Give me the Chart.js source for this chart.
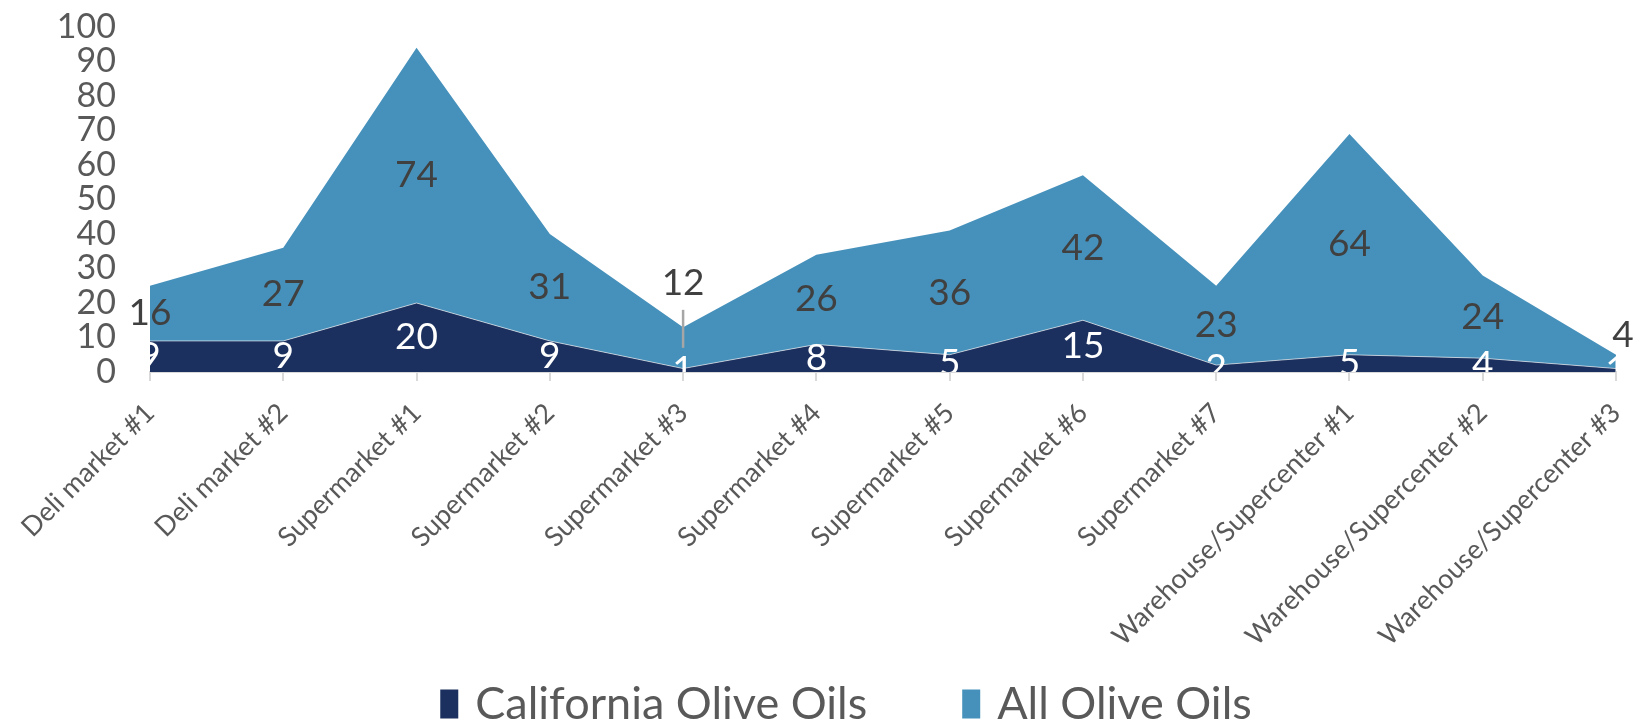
<!DOCTYPE html>
<html>
<head>
<meta charset="utf-8">
<script src="https://cdn.jsdelivr.net/npm/chart.js@4"></script>
<style>
  html, body { margin: 0; padding: 0; background: #fff; }
  #wrap { width: 1646px; height: 724px; }
</style>
</head>
<body>
<div id="wrap"><canvas id="oilChart"></canvas></div>
<script>
const stores = [
  'Deli market #1', 'Deli market #2', 'Supermarket #1', 'Supermarket #2',
  'Supermarket #3', 'Supermarket #4', 'Supermarket #5', 'Supermarket #6',
  'Supermarket #7', 'Warehouse/Supercenter #1', 'Warehouse/Supercenter #2',
  'Warehouse/Supercenter #3'
];
const californiaOils = [9, 9, 20, 9, 1, 8, 5, 15, 2, 5, 4, 1];
const allOils = [16, 27, 74, 31, 12, 26, 36, 42, 23, 64, 24, 4];
const yTicks = [0, 10, 20, 30, 40, 50, 60, 70, 80, 90, 100];

const NAVY = '#1b305e';
const BLUE = '#4691bb';
const FONT = 'Lato, "Open Sans", sans-serif';

// labels that don't fit inside the thin part of the band get lifted
const liftedLabels = { 4: { dy: 65, dx: 0, leader: true }, 11: { dy: 27, dx: 7, leader: false } };

const bandLabels = {
  id: 'bandLabels',
  afterDatasetsDraw(chart) {
    const ctx = chart.ctx;
    const area = chart.chartArea;
    const y0 = chart.scales.y.getPixelForValue(0);
    const low = chart.getDatasetMeta(0).data;
    const high = chart.getDatasetMeta(1).data;
    ctx.save();
    ctx.font = '37px ' + FONT;
    ctx.textAlign = 'center';
    ctx.textBaseline = 'middle';

    // California labels, white, inside the dark band
    ctx.save();
    ctx.beginPath();
    ctx.rect(area.left, area.top, area.right - area.left, area.bottom - area.top);
    ctx.clip();
    ctx.fillStyle = '#ffffff';
    low.forEach((pt, i) => {
      ctx.fillText(String(californiaOils[i]), pt.x, (pt.y + y0) / 2);
    });
    ctx.restore();

    // All olive oils labels, dark grey, centred in the upper band
    ctx.fillStyle = '#404040';
    high.forEach((pt, i) => {
      const mid = (pt.y + low[i].y) / 2;
      const lift = liftedLabels[i];
      if (lift) {
        const ly = mid - lift.dy;
        ctx.fillText(String(allOils[i]), pt.x + lift.dx, ly);
        if (lift.leader) {
          ctx.strokeStyle = '#a6a6a6';
          ctx.lineWidth = 2.5;
          ctx.beginPath();
          ctx.moveTo(pt.x, ly + 27);
          ctx.lineTo(pt.x, mid);
          ctx.stroke();
        }
      } else {
        ctx.fillText(String(allOils[i]), pt.x, mid);
      }
    });
    ctx.restore();
  }
};

// legend along the bottom: square swatch + series name
const bottomLegend = {
  id: 'bottomLegend',
  afterDraw(chart) {
    const ctx = chart.ctx;
    const size = 45, boxW = 18, boxH = 29, gap = 17, itemGap = 95;
    const centerX = 846, midY = 704;
    ctx.save();
    ctx.font = size + 'px ' + FONT;
    ctx.textBaseline = 'middle';
    const items = chart.data.datasets.map(ds => ({ text: ds.label, color: ds.backgroundColor, w: ctx.measureText(ds.label).width }));
    const total = items.reduce((s, it) => s + boxW + gap + it.w, 0) + itemGap * (items.length - 1);
    let x = centerX - total / 2;
    items.forEach(it => {
      ctx.fillStyle = it.color;
      ctx.fillRect(x, midY - boxH / 2, boxW, boxH);
      x += boxW + gap;
      ctx.fillStyle = '#595959';
      ctx.fillText(it.text, x, midY);
      x += it.w + itemGap;
    });
    ctx.restore();
  }
};

new Chart(document.getElementById('oilChart'), {
  type: 'line',
  data: {
    labels: stores,
    datasets: [
      {
        label: 'California Olive Oils',
        data: californiaOils,
        backgroundColor: NAVY,
        borderColor: 'rgba(255,255,255,0.6)',
        borderWidth: 1,
        fill: 'origin',
        pointRadius: 0,
        tension: 0
      },
      {
        label: 'All Olive Oils',
        data: allOils,
        backgroundColor: BLUE,
        borderColor: BLUE,
        borderWidth: 0,
        fill: '-1',
        pointRadius: 0,
        tension: 0
      }
    ]
  },
  options: {
    responsive: true,
    maintainAspectRatio: false,
    animation: false,
    layout: { padding: { left: 0, right: 30, top: 27, bottom: 0 } },
    plugins: {
      tooltip: { enabled: false },
      legend: { display: false }
    },
    scales: {
      x: {
        offset: false,
        border: { display: true, color: '#d9d9d9', width: 2 },
        grid: { display: true, drawOnChartArea: false, drawTicks: true, tickLength: 9, color: '#d9d9d9', lineWidth: 2 },
        ticks: {
          autoSkip: false,
          maxRotation: 45,
          minRotation: 45,
          padding: 16,
          color: '#595959',
          font: { family: FONT, size: 27 }
        },
        afterFit(scale) {
          scale.height = 352;
          scale.paddingLeft = 0;
          scale.paddingRight = 0;
        }
      },
      y: {
        stacked: true,
        min: 0,
        max: 100,
        border: { display: false },
        grid: { display: false, drawTicks: false },
        afterBuildTicks(scale) { scale.ticks = yTicks.map(v => ({ value: v })); },
        ticks: {
          autoSkip: false,
          padding: 34,
          color: '#595959',
          font: { family: FONT, size: 34 }
        },
        afterFit(scale) {
          scale.width = 150;
          scale.paddingTop = 0;
          scale.paddingBottom = 0;
        }
      }
    }
  },
  plugins: [bandLabels, bottomLegend]
});
</script>
</body>
</html>
